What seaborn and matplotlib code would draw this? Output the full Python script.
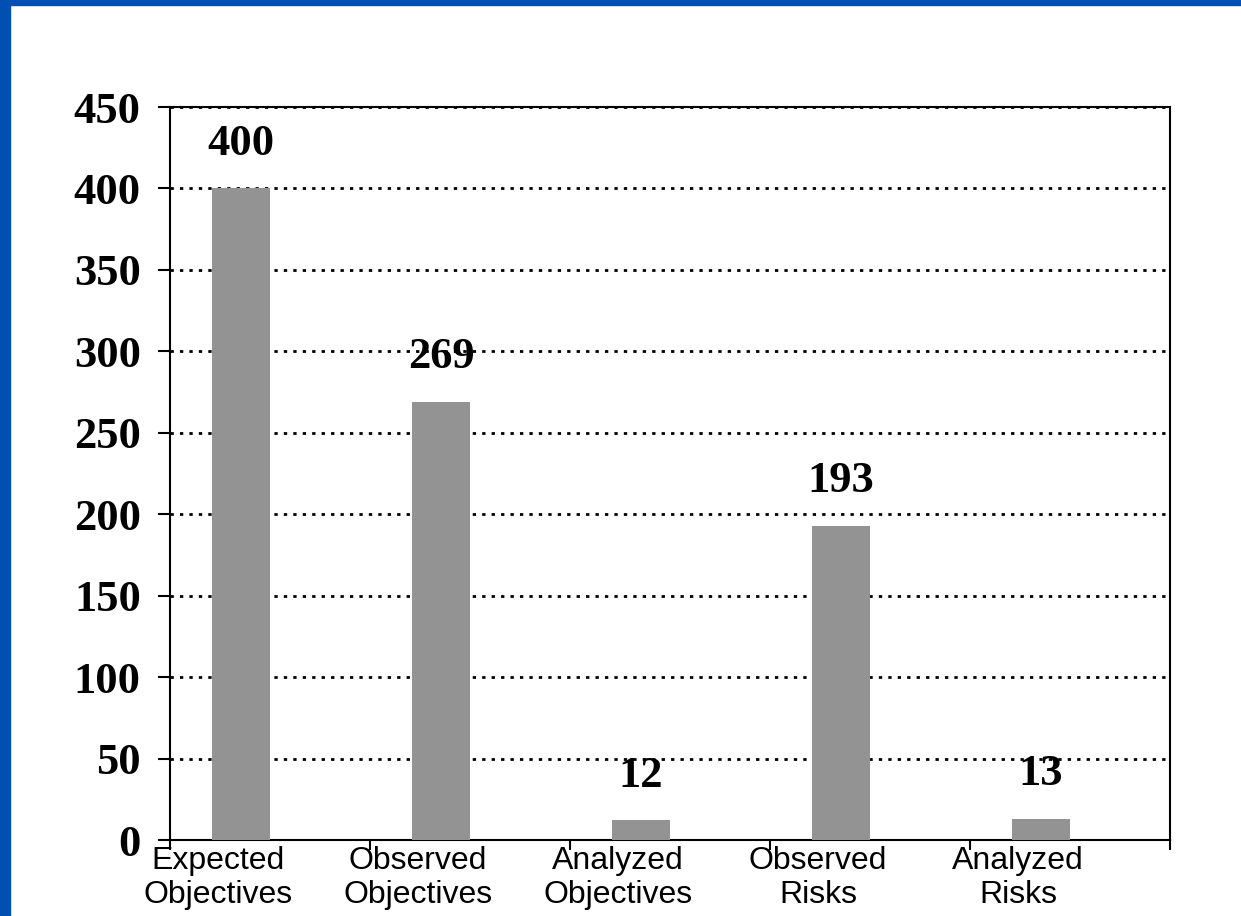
import numpy as np
import pandas as pd
import matplotlib.pyplot as plt
import seaborn as sns
from matplotlib.patches import Rectangle

# Data
categories = ['Expected\nObjectives', 'Observed\nObjectives', 'Analyzed\nObjectives',
              'Observed\nRisks', 'Analyzed\nRisks']
counts = [400, 269, 12, 193, 13]
y_ticks = [0, 50, 100, 150, 200, 250, 300, 350, 400, 450]

df = pd.DataFrame({'category': categories, 'count': counts})

sns.set_style('white')
plt.rcParams['font.family'] = ['Liberation Sans', 'DejaVu Sans']
plt.rcParams['text.color'] = 'black'
plt.rcParams['xtick.color'] = 'black'
plt.rcParams['ytick.color'] = 'black'

fig = plt.figure(figsize=(12.41, 9.16), dpi=100)
ax = fig.add_axes([170 / 1241, 76 / 916, 1000 / 1241, 733 / 916])

# blue slide frame (top and left)
fig.patches.append(Rectangle((0, 1 - 5 / 916), 1, 5 / 916, transform=fig.transFigure,
                             color='#0050B4', zorder=0))
fig.patches.append(Rectangle((0, 0), 10 / 1241, 1, transform=fig.transFigure,
                             color='#0050B4', zorder=0))

sns.barplot(data=df, x='category', y='count', color='#939393', width=0.29,
            saturation=1, linewidth=0, ax=ax, zorder=3)

# offset so bars sit left of the slot centre, like the original
off = 0.355
ax.set_xlim(-off, len(categories) - off)
ax.set_ylim(0, 450)

# value labels
for i, v in enumerate(counts):
    ax.annotate(str(v), (i, v), xytext=(0, 24), textcoords='offset points',
                ha='center', va='baseline', fontsize=32, fontweight='bold',
                family='Liberation Serif', color='black')

# y axis
ax.set_yticks(y_ticks)
ax.set_yticklabels([str(t) for t in y_ticks], family='Liberation Serif',
                   fontweight='bold', fontsize=32, color='black')
ax.tick_params(axis='y', direction='out', length=9, width=1.5, pad=12, left=True,
               colors='black')
ax.yaxis.grid(True, color='black', linestyle=(0, (1.2, 2.2)), linewidth=2)
ax.set_axisbelow(True)

# x axis: tick marks at slot boundaries, labels slightly left of centre
ax.set_xticks(np.arange(len(categories) + 1) - off)
ax.set_xticklabels([''] * (len(categories) + 1))
ax.set_xticks(np.arange(len(categories)) - 0.115, minor=True)
ax.set_xticklabels(categories, minor=True, fontsize=23, linespacing=1.2, color='black')
ax.tick_params(axis='x', which='major', direction='out', length=7, width=1.5, bottom=True,
               colors='black')
ax.tick_params(axis='x', which='minor', length=0, pad=4)

ax.set_xlabel('')
ax.set_ylabel('')
for s in ax.spines.values():
    s.set_visible(True)
    s.set_color('black')
    s.set_linewidth(1.5)

fig.savefig('out.png', dpi=100, facecolor='white')
